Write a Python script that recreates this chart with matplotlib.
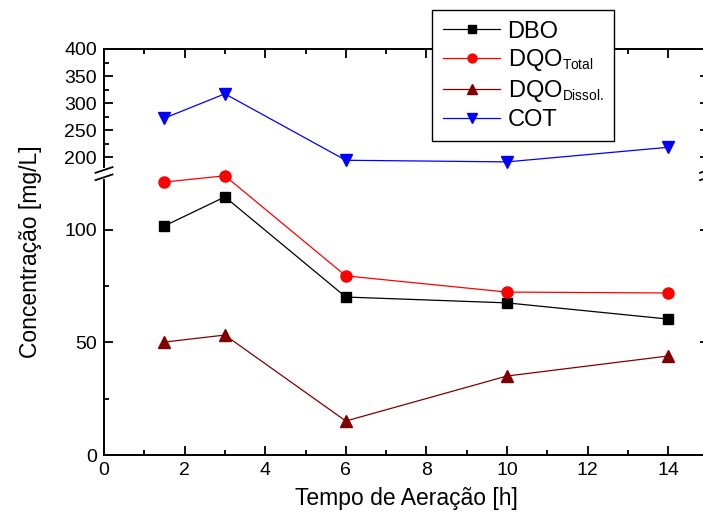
import numpy as np
import matplotlib
matplotlib.use("Agg")
import matplotlib.pyplot as plt
import matplotlib._mathtext as mtext
from matplotlib.ticker import FixedLocator

plt.rcParams['font.family'] = ['Liberation Sans', 'DejaVu Sans']
plt.rcParams['mathtext.fontset'] = 'custom'
plt.rcParams['mathtext.rm'] = 'Liberation Sans'
plt.rcParams['mathtext.it'] = 'Liberation Sans:italic'
# smaller subscripts, as in the original legend
mtext.SHRINK_FACTOR = 0.58

# data
tempo = [1.5, 3, 6, 10, 14]
dbo = [101.8, 114.7, 70.2, 67.6, 60.4]
dqo_total = [121.3, 124.9, 79.6, 72.4, 72.0]
dqo_dissol = [50.2, 53.3, 15.1, 35.1, 44.0]
cot = [272, 317, 194, 191, 218]

major_y = [0, 50, 100, 200, 250, 300, 350, 400]
minor_y = [25, 75, 225, 275, 325, 375]

# broken y scale: 0-124 linear, 185-400 compressed
B1, B2 = 124.0, 185.0
K_GAP = 0.079
K_UP = 0.24

def forward(v):
    v = np.asarray(v, dtype=float)
    f_b2 = B1 + (B2 - B1) * K_GAP
    return np.where(v <= B1, v,
                    np.where(v <= B2, B1 + (v - B1) * K_GAP,
                             f_b2 + (v - B2) * K_UP))

def inverse(f):
    f = np.asarray(f, dtype=float)
    f_b2 = B1 + (B2 - B1) * K_GAP
    return np.where(f <= B1, f,
                    np.where(f <= f_b2, B1 + (f - B1) / K_GAP,
                             B2 + (f - f_b2) / K_UP))

fig = plt.figure(figsize=(7.03, 5.17), dpi=100)
ax = fig.add_axes([104 / 703, 62 / 517, 604.5 / 703, 406 / 517])
ax.set_yscale('function', functions=(forward, inverse))

ax.plot(tempo, dbo, color='black', lw=0.9, marker='s', ms=7, label='DBO', clip_on=False)
ax.plot(tempo, dqo_total, color='red', lw=0.9, marker='o', ms=8, label='DQO$_{\\mathrm{Total}}$', clip_on=False)
ax.plot(tempo, dqo_dissol, color='#800000', lw=0.9, marker='^', ms=9, label='DQO$_{\\mathrm{Dissol.}}$', clip_on=False)
ax.plot(tempo, cot, color='blue', lw=0.9, marker='v', ms=9, label='COT', clip_on=False)

ax.set_xlim(0, 15)
ax.set_ylim(0, 400)
ax.set_xticks([0, 2, 4, 6, 8, 10, 12, 14])
ax.set_xticks([1, 3, 5, 7, 9, 11, 13], minor=True)
ax.yaxis.set_major_locator(FixedLocator(major_y))
ax.yaxis.set_minor_locator(FixedLocator(minor_y))
ax.set_yticklabels([str(v) for v in major_y])

ax.tick_params(which='both', direction='in', top=True, right=True, width=1.3, labelsize=14)
ax.tick_params(which='major', length=6.5, pad=5)
ax.tick_params(which='minor', length=3.3)
for s in ax.spines.values():
    s.set_linewidth(1.4)

ax.set_xlabel('Tempo de Aeração [h]', fontsize=16.5, labelpad=6)
ax.set_ylabel('Concentração [mg/L]', fontsize=16.5, labelpad=16)

# break marks on both vertical spines
yb = 0.693
for xs in (0.0, 1.0):
    ax.plot([xs, xs], [yb - 0.009, yb + 0.009], color='white', lw=3,
            transform=ax.transAxes, clip_on=False, zorder=5)
    for dy in (-0.009, 0.009):
        ax.plot([xs - 0.014, xs + 0.014], [yb + dy - 0.007, yb + dy + 0.007],
                color='black', lw=1.3, transform=ax.transAxes, clip_on=False, zorder=6)

leg = ax.legend(loc='upper left', bbox_to_anchor=(432 / 703, 1 - 10 / 517),
                bbox_transform=fig.transFigure, borderaxespad=0, fontsize=17,
                fancybox=False, edgecolor='black', framealpha=1, handlelength=2.45,
                handletextpad=0.3, labelspacing=0.2, borderpad=0.45, markerscale=0.8)
leg.get_frame().set_linewidth(1.0)
leg.set_zorder(10)

fig.savefig('out.png', dpi=100)
